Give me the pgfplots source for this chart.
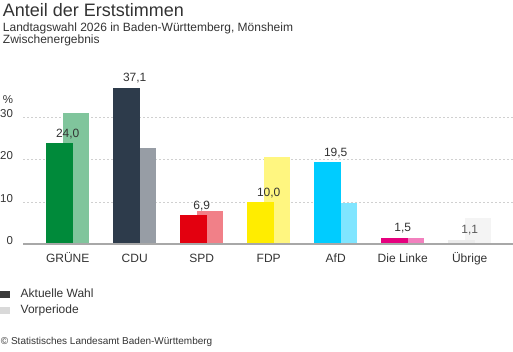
\documentclass[border=0pt]{standalone}
\usepackage{fontspec}
\setmainfont{Liberation Sans}
\usepackage{pgfplots}
\pgfplotsset{compat=1.18}
\definecolor{txt}{HTML}{333333}
\definecolor{gridc}{HTML}{D0D0D0}
\definecolor{basec}{HTML}{A8A8A8}
\definecolor{gruen}{HTML}{008A3A}
\definecolor{gruenL}{HTML}{80C59C}
\definecolor{cdu}{HTML}{2D3B4B}
\definecolor{cduL}{HTML}{979DA5}
\definecolor{spd}{HTML}{E3000F}
\definecolor{spdL}{HTML}{F18088}
\definecolor{fdp}{HTML}{FFED00}
\definecolor{fdpL}{HTML}{FFF680}
\definecolor{afd}{HTML}{00CCFF}
\definecolor{afdL}{HTML}{80E5FF}
\definecolor{linke}{HTML}{E6007E}
\definecolor{linkeL}{HTML}{F280BE}
\definecolor{ueb}{HTML}{ECECEC}
\definecolor{uebL}{HTML}{F4F4F4}
\definecolor{legdark}{HTML}{3A3A3A}
\definecolor{leglight}{HTML}{D9D9D9}
\begin{document}
\begin{tikzpicture}
\path[use as bounding box] (0,0) rectangle (384.75pt,264pt);
\node[anchor=base west, inner sep=0pt, text=txt, font=\fontsize{13.5}{16}\selectfont] at (2pt,251.25pt) {Anteil der Erststimmen};
\node[anchor=base west, inner sep=0pt, text=txt, font=\fontsize{9}{11}\selectfont] at (2pt,240pt) {Landtagswahl 2026 in Baden-Württemberg, Mönsheim};
\node[anchor=base west, inner sep=0pt, text=txt, font=\fontsize{9}{11}\selectfont] at (2pt,231pt) {Zwischenergebnis};
\node[anchor=base east, inner sep=0pt, text=txt, font=\fontsize{8.6}{10}\selectfont] at (10pt,186pt) {\%};
\node[anchor=base west, inner sep=0pt, text=txt, font=\fontsize{7.5}{9}\selectfont] at (0.5pt,5.25pt) {© Statistisches Landesamt Baden-Württemberg};
\begin{axis}[
  at={(17.25pt,80.775pt)}, anchor=south west,
  scale only axis, width=367.5pt, height=126.6pt,
  xmin=-0.667, xmax=6.646, ymin=0, ymax=40,
  clip=false,
  axis line style={draw=none},
  major tick length=0pt,
  xtick={0,1,2,3,4,5,6},
  xticklabels={GRÜNE,CDU,SPD,FDP,AfD,Die Linke,Übrige},
  ytick={0,10,20,30},
  ymajorgrids,
  grid style={dash pattern=on 1.5pt off 1.5pt, color=gridc, line width=0.75pt},
  xticklabel style={anchor=base, inner sep=0pt, yshift=-14pt, font=\fontsize{9}{11}\selectfont, text=txt},
  yticklabel style={anchor=base east, inner sep=0pt, xshift=-7.3pt, font=\fontsize{8.6}{10}\selectfont, text=txt},
  /pgf/number format/assume math mode=true,
  legend style={draw=none, fill=none, at={(-0.04694,-0.2663)}, anchor=north west, inner sep=0pt, outer sep=0pt, row sep=3.6pt, column sep=8pt, nodes={inner sep=0pt, text depth=0.15em, font=\fontsize{9}{11}\selectfont, text=txt}},
  legend cell align=left,
  legend image code/.code={\fill[#1] (0pt,-2.625pt) rectangle (7.5pt,2.625pt);},
  nodes near coords style={anchor=base, inner sep=0pt, yshift=4.5pt, font=\fontsize{9}{11}\selectfont, text=txt},
]
\addlegendimage{fill=legdark, draw=none}\addlegendentry{Aktuelle Wahl}
\addlegendimage{fill=leglight, draw=none}\addlegendentry{Vorperiode}
% Vorperiode (behind)
\addplot[ybar, bar width=20pt, bar shift=6.15pt, fill=gruenL, draw=none] coordinates {(0,31.2)};
\addplot[ybar, bar width=20pt, bar shift=6.15pt, fill=cduL, draw=none] coordinates {(1,22.9)};
\addplot[ybar, bar width=20pt, bar shift=6.15pt, fill=spdL, draw=none] coordinates {(2,8.0)};
\addplot[ybar, bar width=20pt, bar shift=6.15pt, fill=fdpL, draw=none] coordinates {(3,20.6)};
\addplot[ybar, bar width=20pt, bar shift=6.15pt, fill=afdL, draw=none] coordinates {(4,9.9)};
\addplot[ybar, bar width=20pt, bar shift=6.15pt, fill=linkeL, draw=none] coordinates {(5,1.5)};
\addplot[ybar, bar width=20pt, bar shift=6.15pt, fill=uebL, draw=none] coordinates {(6,6.2)};
% Aktuelle Wahl
\addplot[ybar, bar width=20pt, bar shift=-6.15pt, fill=gruen, draw=none, nodes near coords={\pgfmathprintnumber[use comma,fixed,fixed zerofill,precision=1,assume math mode=true]{\pgfplotspointmeta}}, point meta=y] coordinates {(0,24.0)};
\addplot[ybar, bar width=20pt, bar shift=-6.15pt, fill=cdu, draw=none, nodes near coords={\pgfmathprintnumber[use comma,fixed,fixed zerofill,precision=1,assume math mode=true]{\pgfplotspointmeta}}, point meta=y] coordinates {(1,37.1)};
\addplot[ybar, bar width=20pt, bar shift=-6.15pt, fill=spd, draw=none, nodes near coords={\pgfmathprintnumber[use comma,fixed,fixed zerofill,precision=1,assume math mode=true]{\pgfplotspointmeta}}, point meta=y] coordinates {(2,6.9)};
\addplot[ybar, bar width=20pt, bar shift=-6.15pt, fill=fdp, draw=none, nodes near coords={\pgfmathprintnumber[use comma,fixed,fixed zerofill,precision=1,assume math mode=true]{\pgfplotspointmeta}}, point meta=y] coordinates {(3,10.0)};
\addplot[ybar, bar width=20pt, bar shift=-6.15pt, fill=afd, draw=none, nodes near coords={\pgfmathprintnumber[use comma,fixed,fixed zerofill,precision=1,assume math mode=true]{\pgfplotspointmeta}}, point meta=y] coordinates {(4,19.5)};
\addplot[ybar, bar width=20pt, bar shift=-6.15pt, fill=linke, draw=none, nodes near coords={\pgfmathprintnumber[use comma,fixed,fixed zerofill,precision=1,assume math mode=true]{\pgfplotspointmeta}}, point meta=y] coordinates {(5,1.5)};
\addplot[ybar, bar width=20pt, bar shift=-6.15pt, fill=ueb, draw=none, nodes near coords={\pgfmathprintnumber[use comma,fixed,fixed zerofill,precision=1,assume math mode=true]{\pgfplotspointmeta}}, point meta=y, nodes near coords style={text=black!65}] coordinates {(6,1.1)};
\draw[color=basec, line width=1.5pt] (rel axis cs:0,0) -- (rel axis cs:1,0);
\end{axis}
\end{tikzpicture}
\end{document}
